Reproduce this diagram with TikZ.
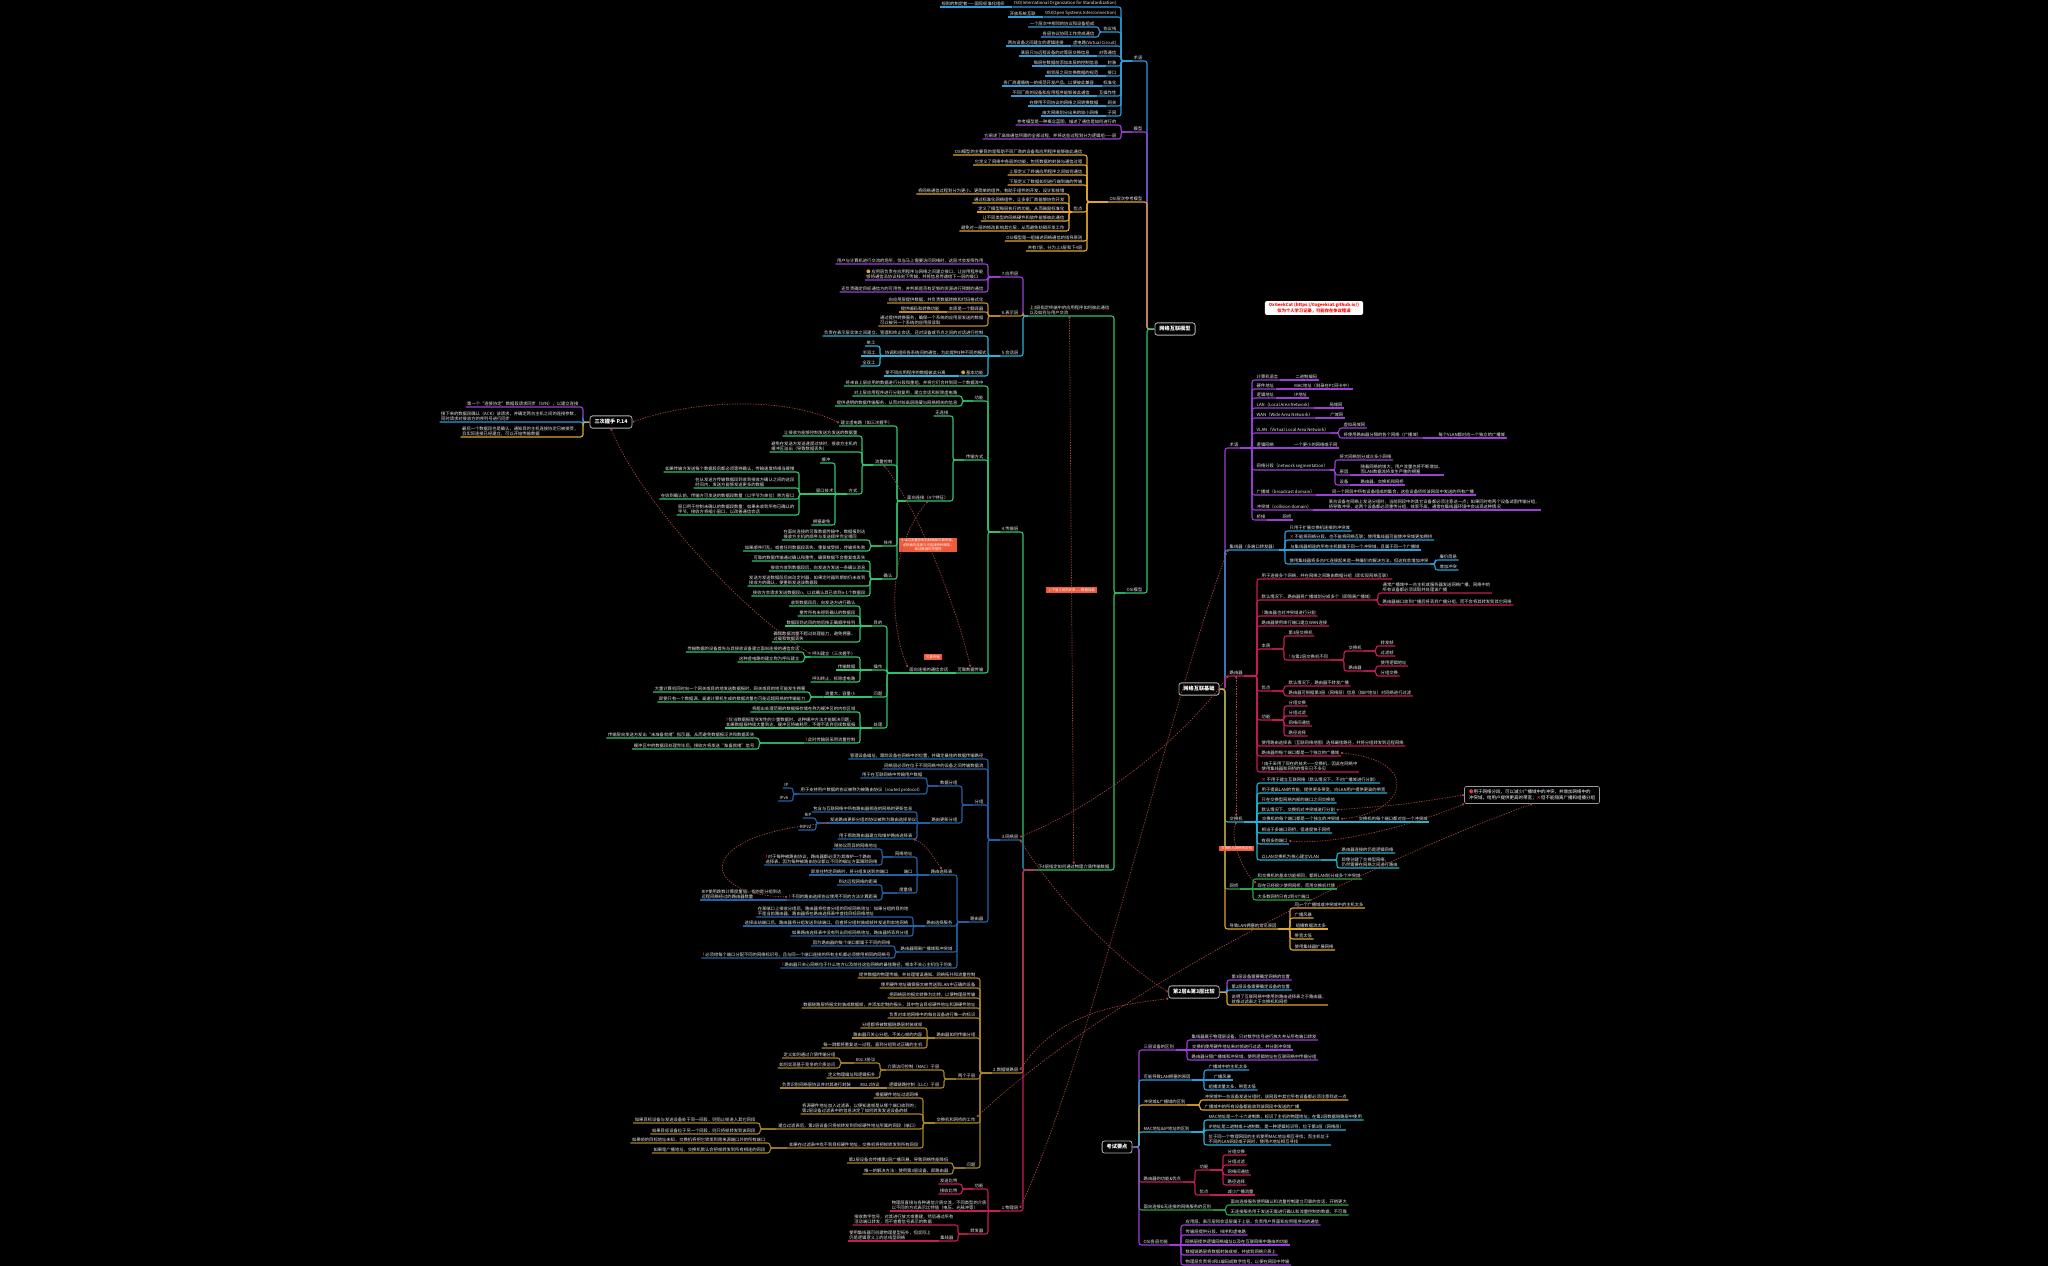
\documentclass[tikz,border=0pt]{standalone}
\usepackage{fontspec}
\setmainfont{Noto Sans CJK SC}
\usetikzlibrary{arrows.meta}
\definecolor{cBlue}{HTML}{2C9CDB}
\definecolor{cPurp}{HTML}{9B3FD6}
\definecolor{cGold}{HTML}{E0A62C}
\definecolor{cGreen}{HTML}{2FC46E}
\definecolor{cCyan}{HTML}{28B3D8}
\definecolor{cBrown}{HTML}{BF8A2B}
\definecolor{cNavy}{HTML}{2361A6}
\definecolor{cOlive}{HTML}{A88424}
\definecolor{cCrim}{HTML}{C41C5C}
\definecolor{cTeal}{HTML}{20B5CF}
\definecolor{cLeaf}{HTML}{2FA046}
\definecolor{cRel}{HTML}{A8453B}
\definecolor{cTag}{HTML}{EE5A3A}
\definecolor{cWarn}{HTML}{E53935}
\tikzset{
  tx/.style={font=\fontsize{4.3}{5.4}\selectfont, text=white!92!black, inner xsep=1.5pt, inner ysep=0.9pt, align=left},
  br/.style={draw=#1, line width=1.1pt, rounded corners=2.5pt},
  topic/.style={draw=white!70!black, line width=0.8pt, rounded corners=2.5pt, fill=black, text=white,
    font=\fontsize{5.2}{6}\selectfont\bfseries, inner xsep=4.5pt, inner ysep=3.6pt},
  port/.style={inner sep=0pt, minimum size=0pt},
  rel/.style={draw=cRel, dash pattern=on 1.3pt off 1.3pt, line width=0.7pt,
    {Circle[length=2.2pt]}-{Circle[length=2.2pt]}},
  tag/.style={fill=cTag, text=white, font=\fontsize{3.4}{4.2}\selectfont, inner xsep=2pt, inner ysep=1.2pt, align=center},
}
% right child: colour, name, parent, x of line start, y of text, text
\newcommand\mmR[6]{\node[tx,anchor=south west] (#2) at (#4,#5+3) {#6};
  \draw[br=#1] (#3.south east) -| ([xshift=-3pt]#2.south west) -- (#2.south east);}
% left child: colour, name, parent, x of line end, y of text, text
\newcommand\mmL[6]{\node[tx,anchor=south east] (#2) at (#4,#5+3) {#6};
  \draw[br=#1] (#3.south west) -| ([xshift=3pt]#2.south east) -- (#2.south west);}
% same-row children: colour, name, parent, gap, text
\newcommand\mmRS[5]{\node[tx,anchor=south west] (#2) at ([xshift=#4pt]#3.south east) {#5};
  \draw[br=#1] (#3.south east) -- (#2.south east);}
\newcommand\mmLS[5]{\node[tx,anchor=south east] (#2) at ([xshift=-#4pt]#3.south west) {#5};
  \draw[br=#1] (#3.south west) -- (#2.south west);}
\newcommand\iconW{{\color{cWarn}\bfseries !}\,}
\newcommand\iconX{{\color{cWarn}\bfseries ×}\,}
\newcommand\iconD{{\color{cGold}●}\,}
\begin{document}
\begin{tikzpicture}[x=1pt,y=-1pt]
\useasboundingbox (0,0) rectangle (2048,1266);
\fill[black] (0,0) rectangle (2048,1266);

% ================= 网络互联模型 =================
\node[topic] (M1) at (1175,329) {网络互联模型};
\node[port] (M1p) at (M1.west) {};

\mmL{cBlue}{A1}{M1p}{1144}{58}{术语}
\mmL{cBlue}{a1}{A1}{1118}{4}{ISO(International Organization for Standardization)}
\mmLS{cBlue}{a1c}{a1}{6}{规则的制定者——国际标准化组织}
\mmL{cBlue}{a2}{A1}{1118}{14}{OSI(Open Systems Interconnection)}
\mmLS{cBlue}{a2c}{a2}{6}{开放系统互联}
\mmL{cBlue}{a3}{A1}{1118}{29}{协议栈}
\mmL{cBlue}{a3a}{a3}{1096}{24}{一个层次中相邻的协议和设备组成}
\mmL{cBlue}{a3b}{a3}{1096}{34}{各层协议协同工作完成通信}
\mmL{cBlue}{a4}{A1}{1118}{43}{虚电路(Virtual Circuit)}
\mmLS{cBlue}{a4c}{a4}{6}{两台设备之间建立的逻辑连接}
\mmL{cBlue}{a5}{A1}{1118}{53}{对等通信}
\mmLS{cBlue}{a5c}{a5}{6}{某层只与远程设备的对等层交换信息}
\mmL{cBlue}{a6}{A1}{1118}{63}{封装}
\mmLS{cBlue}{a6c}{a6}{6}{每层在数据前添加本层的控制信息}
\mmL{cBlue}{a7}{A1}{1118}{73}{接口}
\mmLS{cBlue}{a7c}{a7}{6}{相邻层之间交换数据的规范}
\mmL{cBlue}{a8}{A1}{1118}{83}{标准化}
\mmLS{cBlue}{a8c}{a8}{6}{各厂商遵循统一的规范开发产品，以便彼此兼容}
\mmL{cBlue}{a9}{A1}{1118}{93}{互操作性}
\mmLS{cBlue}{a9c}{a9}{6}{不同厂商的设备和应用程序能够彼此通信}
\mmL{cBlue}{a10}{A1}{1118}{103}{网关}
\mmLS{cBlue}{a10c}{a10}{6}{在使用不同协议的网络之间转换数据}
\mmL{cBlue}{a11}{A1}{1118}{113}{子网}
\mmLS{cBlue}{a11c}{a11}{6}{由大网络划分出来的较小网络}

\mmL{cPurp}{A2}{M1p}{1144}{129}{模型}
\mmL{cPurp}{b1}{A2}{1118}{122}{参考模型是一种概念蓝图，描述了通信是如何进行的}
\mmL{cPurp}{b2}{A2}{1118}{136}{它阐述了高效通信所需的全部过程，并将这些过程划分为逻辑组——层}

\mmL{cGold}{A3}{M1p}{1144}{199}{OSI层次参考模型}
\mmL{cGold}{d1}{A3}{1084}{152}{OSI模型的主要目的是帮助不同厂商的设备和应用程序能够彼此通信}
\mmL{cGold}{d2}{A3}{1084}{162}{它定义了网络中各层的功能，包括数据的封装与通信过程}
\mmL{cGold}{d3}{A3}{1084}{172}{上层定义了终端应用程序之间如何通信}
\mmL{cGold}{d4}{A3}{1084}{182}{下层定义了数据如何进行端到端的传输}
\mmL{cGold}{D5}{A3}{1084}{209}{优点}
\mmL{cGold}{d51}{D5}{1066}{191}{将网络通信过程划分为更小、更简单的组件，有助于组件的开发、设计和排错}
\mmL{cGold}{d52}{D5}{1066}{200}{通过标准化网络组件，让多家厂商能够协作开发}
\mmLS{cGold}{d53}{D5}{6}{定义了模型每层执行的功能，从而鼓励标准化}
\mmL{cGold}{d54}{D5}{1066}{218}{让不同类型的网络硬件和软件能够彼此通信}
\mmL{cGold}{d55}{D5}{1066}{228}{避免对一层的修改影响其它层，从而避免妨碍开发工作}
\mmL{cGold}{d6}{A3}{1084}{238}{OSI模型是一组描述网络通信的指导原则}
\mmL{cGold}{d7}{A3}{1084}{248}{共有7层，分为上3层和下4层}

% ---------- OSI模型 ----------
\mmL{cGreen}{A4}{M1p}{1144}{590}{OSI模型}
\mmL{cGreen}{U3}{A4}{1111}{313}{上3层指定终端中的应用程序如何彼此通信\\以及如何与用户交流}
\mmL{cGreen}{D4}{A4}{1111}{867}{下4层指定如何通过物理介质传输数据}

\mmL{cPurp}{AP}{U3}{1020}{274}{7.应用层}
\mmL{cPurp}{ap1}{AP}{985}{261}{用户与计算机进行交流的场所，仅当马上需要访问网络时，这层才会发挥作用}
\mmL{cPurp}{ap2}{AP}{985}{277}{\iconD 应用层负责在应用程序与网络之间建立接口，让应用程序能\\够将通信沿协议栈向下传输，并将信息传递给下一层的接口}
\mmL{cPurp}{ap3}{AP}{985}{289}{还负责确定目标通信方的可用性，并判断是否有足够的资源进行预期的通信}

\mmL{cBrown}{PR}{U3}{1020}{313}{6.表示层}
\mmL{cBrown}{pr1}{PR}{985}{300}{向应用层提供数据，并负责数据转换和代码格式化}
\mmL{cBrown}{pr2}{PR}{985}{309}{本质是一个翻译器}
\mmLS{cBrown}{pr2a}{pr2}{6}{提供编码和转换功能}
\mmL{cBrown}{pr3}{PR}{985}{323}{通过提供转换服务，确保一个系统的应用层发送的数据\\可以被另一个系统的应用层读取}

\mmL{cCyan}{SE}{U3}{1020}{353}{5.会话层}
\mmL{cCyan}{se1}{SE}{985}{333}{负责在表示层实体之间建立、管理和终止会话，还对设备或节点之间的对话进行控制}
\mmLS{cCyan}{se2}{SE}{12}{协调和组织各系统间的通信，为此提供3种不同的模式}
\mmL{cCyan}{se2a}{se2}{877}{343}{单工}
\mmLS{cCyan}{se2b}{se2}{6}{半双工}
\mmL{cCyan}{se2c}{se2}{877}{363}{全双工}
\mmL{cCyan}{se3}{SE}{985}{373}{\iconD 基本功能}
\mmLS{cCyan}{se3a}{se3}{12}{使不同应用程序的数据彼此分离}

% ---------- 4.传输层 ----------
\mmL{cGreen}{T4}{D4}{1020}{529}{4.传输层}
\mmL{cGreen}{t1}{T4}{985}{383}{将来自上层应用的数据进行分段和重组，并将它们合并到同一个数据流中}
\mmL{cGreen}{t2}{T4}{985}{398}{功能}
\mmL{cGreen}{t2a}{t2}{959}{393}{对上层应用程序进行分割复用，建立会话和拆除虚电路}
\mmL{cGreen}{t2b}{t2}{959}{403}{提供透明的数据传输服务，从而对较高层隐藏与网络相关的信息}
\mmL{cGreen}{t3}{T4}{985}{457}{传输方式}
\mmL{cGreen}{t3a}{t3}{950}{413}{无连接}
\mmL{cGreen}{CO}{t3}{950}{498}{面向连接（4个特征）}
\mmL{cGreen}{VC}{CO}{894}{423}{建立虚电路（如三次握手）}
\mmL{cGreen}{FC}{CO}{894}{462}{流量控制}
\mmL{cGreen}{fc1}{FC}{859}{433}{让接收方能够控制发送方发送的数据量}
\mmL{cGreen}{fc2}{FC}{859}{449}{避免在发送方发送速度过快时，接收方主机的\\缓冲区溢出（导致数据丢失）}
\mmL{cGreen}{FM}{FC}{859}{491}{方式}
\mmL{cGreen}{fm1}{FM}{832}{460}{缓冲}
\mmLS{cGreen}{WN}{FM}{12}{窗口技术}
\mmL{cGreen}{fm3}{FM}{832}{522}{拥塞避免}
\mmL{cGreen}{wn1}{WN}{796}{469}{如果传输方发送每个数据段后都必须等待确认，传输速度将相当缓慢}
\mmL{cGreen}{wn2}{WN}{796}{485}{在从发送方传输数据段到收到接收方确认之间的这段\\时间内，发送方能够发送更多的数据}
\mmL{cGreen}{wn3}{WN}{796}{496}{在收到确认前，传输方可发送的数据段数量（以字节为单位）称为窗口}
\mmL{cGreen}{wn4}{WN}{796}{512}{窗口用于控制未确认的数据段数量：如果未收到所有已确认的\\字节，接收方将缩小窗口，以改善通信会话}
\mmL{cGreen}{SQ}{CO}{894}{543}{排序}
\mmL{cGreen}{sq1}{SQ}{867}{537}{在面向连接的可靠数据传输中，数据报到达\\接收方主机的顺序与发送顺序完全相同}
\mmL{cGreen}{sq2}{SQ}{867}{548}{如果顺序打乱，或者任何数据段丢失、重复或受损，传输将失败}
\mmL{cGreen}{AK}{CO}{894}{576}{确认}
\mmL{cGreen}{ak1}{AK}{867}{558}{可靠的数据传输通过确认和重传，确保数据不会重复或丢失}
\mmL{cGreen}{ak2}{AK}{867}{568}{接收方收到数据段后，向发送方发送一条确认消息}
\mmL{cGreen}{ak3}{AK}{867}{583}{发送方发送数据段后启动定时器，如果定时器到期前仍未收到\\接收方的确认，便重新发送该数据段}
\mmL{cGreen}{ak4}{AK}{867}{593}{接收方会请求发送数据段n，以此确认其已收到n-1个数据段}

\mmL{cGreen}{RL}{T4}{985}{670}{可靠数据传输}
\mmLS{cGreen}{CS}{RL}{6}{面向连接的通信会话}
\mmL{cGreen}{G1}{CS}{884}{623}{目的}
\mmL{cGreen}{g11}{G1}{857}{603}{收到数据段后，向发送方进行确认}
\mmL{cGreen}{g12}{G1}{857}{613}{重传所有未得到确认的数据段}
\mmLS{cGreen}{g13}{G1}{15}{数据段到达目的地后按正确顺序排列}
\mmL{cGreen}{g14}{G1}{857}{639}{确保数据流量不超过处理能力，避免拥塞、\\过载和数据丢失}
\mmL{cGreen}{G2}{CS}{884}{667}{操作}
\mmL{cGreen}{CA}{G2}{857}{654}{呼叫建立（三次握手）}
\mmL{cGreen}{ca1}{CA}{801}{649}{传输数据的设备首先与其接收设备建立面向连接的通信会话}
\mmL{cGreen}{ca2}{CA}{801}{659}{这种虚电路的建立称为呼叫建立}
\mmLS{cGreen}{g22}{G2}{15}{传输数据}
\mmL{cGreen}{g23}{G2}{857}{679}{呼叫终止，拆除虚电路}
\mmL{cGreen}{G3}{CS}{884}{694}{问题}
\mmLS{cGreen}{g31}{G3}{15}{流量大，容量小}
\mmL{cGreen}{g31a}{g31}{807}{689}{大量计算机同时向一个网关或目的地发送数据报时，网关或目的地可能发生拥塞}
\mmL{cGreen}{g31b}{g31}{807}{699}{即使只有一个数据源，高速计算机生成的数据流量也可能远超网络的传输能力}
\mmL{cGreen}{G4}{CS}{884}{725}{处理}
\mmL{cGreen}{g41}{G4}{857}{709}{将超出处理范围的数据报存储在称为缓冲区的内存区域}
\mmLS{cGreen}{g42}{G4}{15}{\iconW 仅当数据报是突发性的少量数据时，这种缓冲方法才能解决问题；\\如果数据报持续大量到达，缓冲区将被耗尽，不得不丢弃后续数据报}
\mmL{cGreen}{g43}{G4}{857}{740}{\iconW 此时传输层采用流量控制}
\mmL{cGreen}{g43a}{g43}{756}{735}{传输层向发送方发出“未准备就绪”指示器，从而避免数据报泛洪和数据丢失}
\mmL{cGreen}{g43b}{g43}{756}{746}{缓冲区中的数据段处理完毕后，接收方将发送“准备就绪”信号}

% ---------- 3.网络层 ----------
\mmL{cNavy}{N3}{D4}{1020}{837}{3.网络层}
\mmL{cNavy}{n1}{N3}{985}{756}{管理设备编址，跟踪设备在网络中的位置，并确定最佳的数据传输路径}
\mmL{cNavy}{n2}{N3}{985}{766}{网络层必须在位于不同网络中的设备之间传输数据流}
\mmL{cNavy}{PK}{N3}{985}{802}{分组}
\mmL{cNavy}{DP}{PK}{959}{783}{数据分组}
\mmL{cNavy}{dp1}{DP}{924}{775}{用于在互联网络中传输用户数据}
\mmL{cNavy}{RP}{DP}{924}{791}{用于支持用户数据的协议被称为被路由协议（routed protocol）}
\mmL{cNavy}{rp1}{RP}{790}{785}{IP}
\mmL{cNavy}{rp2}{RP}{790}{798}{IPv6}
\mmL{cNavy}{RU}{PK}{959}{820}{路由更新分组}
\mmL{cNavy}{ru1}{RU}{914}{809}{包含与互联网络中所有路由器相连的网络的更新信息}
\mmLS{cNavy}{RQ}{RU}{12}{发送路由更新分组的协议被称为路由选择协议}
\mmL{cNavy}{rq1}{RQ}{813}{815}{RIP}
\mmL{cNavy}{rq2}{RQ}{813}{827}{RIPv2}
\mmL{cNavy}{ru3}{RU}{914}{836}{用于帮助路由器建立和维护路由选择表}
\mmL{cNavy}{RT}{N3}{985}{919}{路由器}
\mmL{cNavy}{RTB}{RT}{954}{872}{路由选择表}
\mmL{cNavy}{NA}{RTB}{914}{854}{网络地址}
\mmL{cNavy}{na1}{NA}{879}{846}{随协议而异的网络地址}
\mmL{cNavy}{na2}{NA}{879}{862}{\iconW 对于每种被路由协议，路由器都必须为其维护一个路由\\选择表，因为每种被路由协议都以不同的编址方案跟踪网络}
\mmLS{cNavy}{PO}{RTB}{15}{端口}
\mmLS{cNavy}{po1}{PO}{12}{即发往特定网络时，将分组发送到的端口}
\mmL{cNavy}{MT}{RTB}{914}{890}{度量值}
\mmL{cNavy}{mt1}{MT}{879}{882}{到达远程网络的距离}
\mmL{cNavy}{WM}{MT}{879}{897}{\iconW 不同的路由选择协议使用不同的方法计算距离}
\mmLS{cNavy}{wm1}{WM}{4}{RIP使用跳数计算度量值，指的是分组到达\\远程网络经过的路由器数量}
\mmL{cNavy}{RS}{RT}{954}{923}{路由选择服务}
\mmL{cNavy}{rs1}{RS}{910}{914}{在某端口上接收分组后，路由器将检查分组的目标网络地址：如果分组的目的地\\不是当前路由器，路由器将在路由选择表中查找目标网络地址}
\mmLS{cNavy}{rs2}{RS}{15}{选择出站端口后，路由器将分组发送到该端口，后者将分组封装成帧并发送到本地网络}
\mmL{cNavy}{rs3}{RS}{910}{933}{如果路由选择表中没有列出目标网络地址，路由器将丢弃分组}
\mmL{cNavy}{RI}{RT}{954}{949}{路由器隔离广播域和冲突域}
\mmL{cNavy}{ri1}{RI}{892}{943}{因为路由器的每个端口都属于不同的网络}
\mmL{cNavy}{ri2}{RI}{892}{955}{\iconW 必须给每个端口分配不同的网络标识号，且与同一个端口连接的所有主机都必须使用相同的网络号}
\mmL{cNavy}{rt5}{RT}{954}{965}{\iconW 路由器只关心网络位于什么地方以及前往这些网络的最佳路径，根本不关心主机位于何处}

% ---------- 2.数据链路层 ----------
\mmL{cOlive}{L2}{D4}{1020}{1070}{2.数据链路层}
\mmL{cOlive}{l1}{L2}{977}{975}{提供数据的物理传输，并处理错误通知、网络拓扑和流量控制}
\mmL{cOlive}{l2}{L2}{977}{985}{使用硬件地址确保报文被传送到LAN中正确的设备}
\mmL{cOlive}{l3}{L2}{977}{995}{把网络层的报文转换为比特，以便物理层传输}
\mmL{cOlive}{l4}{L2}{977}{1005}{数据链路层将报文封装成数据帧，并添加定制的报头，其中包含目标硬件地址和源硬件地址}
\mmL{cOlive}{l5}{L2}{977}{1015}{负责对本地网络中的每台设备进行唯一的标识}
\mmL{cOlive}{RH}{L2}{977}{1035}{路由器如何传输分组}
\mmL{cOlive}{rh1}{RH}{924}{1025}{分组都将被数据链路层封装成帧}
\mmLS{cOlive}{rh2}{RH}{11}{路由器只关心分组，不关心帧的内容}
\mmL{cOlive}{rh3}{RH}{924}{1045}{每一跳都将重复这一过程，直到分组到达正确的主机}
\mmL{cOlive}{TS}{L2}{977}{1076}{两个子层}
\mmL{cOlive}{MAC}{TS}{941}{1067}{介质访问控制（MAC）子层}
\mmL{cOlive}{P83}{MAC}{877}{1060}{802.3协议}
\mmL{cOlive}{p831}{P83}{837}{1055}{定义如何通过介质传输分组}
\mmL{cOlive}{p832}{P83}{837}{1065}{如何实现基于竞争的介质访问}
\mmL{cOlive}{mac2}{MAC}{877}{1075}{定义物理编址和逻辑拓扑}
\mmL{cOlive}{LLC}{TS}{941}{1085}{逻辑链路控制（LLC）子层}
\mmLS{cOlive}{P82}{LLC}{6}{802.2协议}
\mmLS{cOlive}{p821}{P82}{6}{负责识别网络层协议并对其进行封装}
\mmL{cOlive}{SW}{L2}{977}{1120}{交换机和网桥的工作}
\mmL{cOlive}{sw1}{SW}{920}{1095}{根据硬件地址过滤网络}
\mmL{cOlive}{sw2}{SW}{920}{1111}{将源硬件地址加入过滤表，以便知道帧是从哪个端口收到的；\\第2层设备过滤表中的信息决定了如何转发发送设备的帧}
\mmL{cOlive}{BF}{SW}{920}{1126}{建立过滤表后，第2层设备只将帧转发到目标硬件地址所属的网段（端口）}
\mmL{cOlive}{bf1}{BF}{757}{1120}{如果目标设备与发送设备处于同一网段，则阻止帧进入其它网段}
\mmL{cOlive}{bf2}{BF}{757}{1131}{如果目标设备位于另一个网段，则只将帧转发到该网段}
\mmL{cOlive}{NF}{SW}{920}{1145}{如果在过滤表中找不到目标硬件地址，交换机将把帧转发到所有网段}
\mmL{cOlive}{nf1}{NF}{767}{1140}{如果帧的目标地址未知，交换机将把它转发到除来源端口外的所有端口}
\mmL{cOlive}{nf2}{NF}{767}{1150}{如果是广播地址，交换机默认会把帧转发到所有相连的网段}
\mmL{cOlive}{PB}{L2}{977}{1165}{问题}
\mmL{cOlive}{pb1}{PB}{950}{1160}{第2层设备会传播第2层广播风暴，导致网络性能降低}
\mmL{cOlive}{pb2}{PB}{950}{1171}{唯一的解决方法：使用第3层设备，即路由器}

% ---------- 1.物理层 ----------
\mmL{cCrim}{P1}{D4}{1020}{1208}{1.物理层}
\mmL{cCrim}{FN}{P1}{985}{1186}{功能}
\mmL{cCrim}{fn1}{FN}{959}{1181}{发送比特}
\mmL{cCrim}{fn2}{FN}{959}{1191}{接收比特}
\mmLS{cCrim}{p12}{P1}{12}{物理层直接与各种通信介质交流，不同类型的介质\\以不同的方式表示比特值（电压、光脉冲等）}
\mmL{cCrim}{RP1}{P1}{985}{1231}{转发器}
\mmL{cCrim}{rp11}{RP1}{955}{1222}{接收数字信号，对其进行放大或重建，然后通过所有\\活动端口转发，而不查看信号表示的数据}
\mmL{cCrim}{HB}{RP1}{955}{1238}{集线器}
\mmLS{cCrim}{hb1}{HB}{6}{使用集线器可创建物理星型拓扑，但实际上\\仍是逻辑意义上的总线型网络}

% ================= 三次握手 =================
\node[topic] (M5) at (611,422) {三次握手 P.14};
\node[port] (M5p) at (M5.west) {};
\mmL{cPurp}{h1}{M5p}{580}{404}{第一个“连接协定”数据段请求同步（SYN），以建立连接}
\mmL{cBlue}{h2}{M5p}{580}{419}{接下来的数据段确认（ACK）该请求，并确定两台主机之间的连接参数，\\同时请求对接收方的序列号进行同步}
\mmL{cGold}{h3}{M5p}{580}{434}{最后一个数据段也是确认，通知目的主机连接协定已被接受，\\且实际连接已经建立，可以开始传输数据}

% ================= 网络互联基础 =================
\node[topic] (M2) at (1199,689) {网络互联基础};
\node[port] (M2p) at (M2.east) {};

\mmR{cPurp}{TM}{M2p}{1228}{445}{术语}
\mmR{cPurp}{tm1}{TM}{1255}{377}{计算机语言}
\mmRS{cPurp}{tm1a}{tm1}{14}{二进制编码}
\mmR{cPurp}{tm2}{TM}{1255}{386}{硬件地址}
\mmRS{cPurp}{tm2a}{tm2}{17}{MAC地址（刻录在PC网卡中）}
\mmR{cPurp}{tm3}{TM}{1255}{395}{逻辑地址}
\mmRS{cPurp}{tm3a}{tm3}{17}{IP地址}
\mmR{cPurp}{tm4}{TM}{1255}{405}{LAN（Local Area Network）}
\mmRS{cPurp}{tm4a}{tm4}{14}{局域网}
\mmR{cPurp}{tm5}{TM}{1255}{415}{WAN（Wide Area Network）}
\mmRS{cPurp}{tm5a}{tm5}{14}{广域网}
\mmR{cPurp}{VL}{TM}{1255}{430}{VLAN（Virtual Local Area Network）}
\mmR{cPurp}{vl1}{VL}{1342}{425}{虚拟局域网}
\mmR{cPurp}{vl2}{VL}{1342}{435}{将使用路由器分隔的各个网络（广播域）}
\mmRS{cPurp}{vl2a}{vl2}{14}{每个VLAN都对应一个独立的广播域}
\mmRS{cPurp}{tm7}{TM}{15}{逻辑网络}
\mmRS{cPurp}{tm7a}{tm7}{17}{一个更小的网络或子网}
\mmR{cPurp}{NS}{TM}{1255}{467}{网络分段（network segmentation）}
\mmR{cPurp}{ns1}{NS}{1338}{457}{将大网络划分成众多小网络}
\mmR{cPurp}{ns2}{NS}{1338}{472}{原因}
\mmRS{cPurp}{ns2a}{ns2}{9}{随着网络的增大，用户流量也将不断增加，\\而LAN数据流将发生严重的拥塞}
\mmR{cPurp}{ns3}{NS}{1338}{482}{设备}
\mmRS{cPurp}{ns3a}{ns3}{9}{路由器、交换机和网桥}
\mmR{cPurp}{tm9}{TM}{1255}{492}{广播域（broadcast domain）}
\mmRS{cPurp}{tm9a}{tm9}{14}{同一个网段中所有设备组成的集合，这些设备侦听该网段中发送的所有广播}
\mmR{cPurp}{tm10}{TM}{1255}{507}{冲突域（collision domain）}
\mmRS{cPurp}{tm10a}{tm10}{14}{某台设备在网络上发送分组时，当前网段中的其它设备都必须注意这一点；如果同时有两个设备试图传输分组，\\将导致冲突，这两个设备都必须重传分组，效率不高，通常在集线器环境中会出现这种情况}
\mmR{cPurp}{tm11}{TM}{1255}{517}{桥接}
\mmRS{cPurp}{tm11a}{tm11}{14}{网桥}

\mmR{cBlue}{HU}{M2p}{1228}{547}{集线器（多端口转发器）}
\mmR{cBlue}{hu1}{HU}{1288}{528}{只用于扩展交换机连接的冲突域}
\mmR{cBlue}{hu2}{HU}{1288}{537}{\iconX 不能将网络分段，也不能将网络互联；使用集线器可能使冲突域更加拥挤}
\mmRS{cBlue}{hu3}{HU}{10}{与集线器相连的所有主机都属于同一个冲突域，且属于同一个广播域}
\mmR{cBlue}{HC}{HU}{1288}{561}{使用集线器将多台PC连接起来是一种廉价的解决方法，但这样会增加冲突}
\mmR{cBlue}{hc1}{HC}{1438}{557}{廉价简易}
\mmR{cBlue}{hc2}{HC}{1438}{567}{增加冲突}

\mmR{cCrim}{RO}{M2p}{1228}{673}{路由器}
\mmR{cCrim}{ro1}{RO}{1260}{576}{用于连接多个网络，并在网络之间路由数据分组（即实现网络互联）}
\mmR{cCrim}{BD}{RO}{1260}{597}{默认情况下，路由器将广播域划分成多个（即隔离广播域）}
\mmR{cCrim}{bd1}{BD}{1381}{590}{通常广播域中一台主机或服务器发送网络广播，网络中的\\所有设备都必须读取并处理该广播}
\mmR{cCrim}{bd2}{BD}{1381}{602}{路由器端口收到广播后将丢弃广播分组，而不会将其转发到其它网络}
\mmR{cCrim}{ro3}{RO}{1260}{613}{\iconW 路由器也对冲突域进行分割}
\mmR{cCrim}{ro4}{RO}{1260}{623}{路由器使用串行端口建立WAN连接}
\mmR{cCrim}{ES}{RO}{1260}{646}{本质}
\mmR{cCrim}{es1}{ES}{1287}{633}{第3层交换机}
\mmR{cCrim}{DF}{ES}{1287}{657}{\iconW 与第2层交换机不同}
\mmR{cCrim}{SWx}{DF}{1347}{648}{交换机}
\mmR{cCrim}{swx1}{SWx}{1379}{643}{转发帧}
\mmR{cCrim}{swx2}{SWx}{1379}{653}{过滤帧}
\mmR{cCrim}{RTx}{DF}{1347}{668}{路由器}
\mmR{cCrim}{rtx1}{RTx}{1379}{663}{使用逻辑地址}
\mmR{cCrim}{rtx2}{RTx}{1379}{673}{分组交换}
\mmR{cCrim}{AD}{RO}{1260}{688}{优点}
\mmR{cCrim}{ad1}{AD}{1287}{683}{默认情况下，路由器不转发广播}
\mmR{cCrim}{ad2}{AD}{1287}{693}{路由器可根据第3层（网络层）信息（如IP地址）对网络进行过滤}
\mmR{cCrim}{FU}{RO}{1260}{717}{功能}
\mmR{cCrim}{fu1}{FU}{1287}{703}{分组交换}
\mmR{cCrim}{fu2}{FU}{1287}{713}{分组过滤}
\mmR{cCrim}{fu3}{FU}{1287}{723}{网络间通信}
\mmR{cCrim}{fu4}{FU}{1287}{733}{路径选择}
\mmR{cCrim}{ro8}{RO}{1260}{743}{使用路由选择表（互联网络地图）选择最佳路径，并将分组转发到远程网络}
\mmR{cCrim}{RB}{RO}{1260}{753}{路由器的每个端口都是一个独立的广播域}
\mmR{cCrim}{ro10}{RO}{1260}{769}{\iconW 由于采用了现在的技术——交换机，因此在网络中\\使用集线器和网桥的情形已不多见}

\mmR{cTeal}{SX}{M2p}{1228}{819}{交换机}
\mmR{cTeal}{sx1}{SX}{1260}{780}{\iconX 不用于建立互联网络（默认情况下，不对广播域进行分割）}
\mmR{cTeal}{sx2}{SX}{1260}{790}{用于提高LAN的性能，提供更多带宽，向LAN用户提供更高的带宽}
\mmR{cTeal}{sx3}{SX}{1260}{800}{只在交换型网络内部的端口之间交换帧}
\mmR{cTeal}{sx4}{SX}{1260}{810}{默认情况下，交换机对冲突域进行分割}
\mmRS{cTeal}{PC}{SX}{16}{交换机的每个端口都是一个独立的冲突域}
\mmRS{cTeal}{pca}{PC}{16}{交换机的每个端口都对应一个冲突域}
\mmR{cTeal}{sx6}{SX}{1260}{830}{相当于多端口网桥，但速度快于网桥}
\mmR{cTeal}{sx7}{SX}{1260}{841}{有很多的端口}
\mmR{cTeal}{VX}{SX}{1260}{857}{以LAN交换机为核心建立VLAN}
\mmR{cTeal}{vx1}{VX}{1340}{850}{路由器连接的仍是逻辑网络}
\mmR{cTeal}{vx2}{VX}{1340}{865}{即使创建了交换型网络，\\仍然需要在网络之间进行路由}

\mmR{cLeaf}{BR}{M2p}{1228}{886}{网桥}
\mmR{cLeaf}{br1}{BR}{1256}{876}{和交换机的基本功能相同，都将LAN划分成多个冲突域}
\mmRS{cLeaf}{br2}{BR}{16}{现在已经很少使用网桥，而用交换机代替}
\mmR{cLeaf}{br3}{BR}{1256}{897}{大多数网桥只有2到4个端口}

\mmR{cGold}{CG}{M2p}{1228}{926}{导致LAN拥塞的常见原因}
\mmR{cGold}{cg1}{CG}{1293}{905}{同一个广播域或冲突域中的主机太多}
\mmR{cGold}{cg2}{CG}{1293}{915}{广播风暴}
\mmRS{cGold}{cg3}{CG}{16}{组播数据流太多}
\mmR{cGold}{cg4}{CG}{1293}{936}{带宽太低}
\mmR{cGold}{cg5}{CG}{1293}{947}{使用集线器扩展网络}

% ================= 第2层&第3层比较 =================
\node[topic] (M3) at (1194,992) {第2层\&第3层比较};
\node[port] (M3p) at (M3.east) {};
\mmR{cPurp}{c1}{M3p}{1230}{977}{第3层设备需要确定网络的位置}
\mmR{cBlue}{c2}{M3p}{1230}{987}{第2层设备需要确定设备的位置}
\mmR{cGold}{c3}{M3p}{1230}{1002}{说明了互联网络中使用的路由选择表之于路由器，\\就像过滤表之于交换机和网桥}

% ================= 考试要点 =================
\node[topic] (M4) at (1117,1147) {考试要点};
\node[port] (M4p) at (M4.east) {};
\mmR{cPurp}{E1}{M4p}{1142}{1047}{三层设备的区别}
\mmR{cPurp}{e11}{E1}{1190}{1037}{集线器属于物理层设备，只对数字信号进行放大并从所有端口转发}
\mmRS{cPurp}{e12}{E1}{15}{交换机使用硬件地址来对帧进行过滤，并分割冲突域}
\mmR{cPurp}{e13}{E1}{1190}{1057}{路由器分隔广播域和冲突域，使用逻辑地址在互联网络中传输分组}
\mmR{cBlue}{E2}{M4p}{1142}{1077}{可能导致LAN拥塞的原因}
\mmR{cBlue}{e21}{E2}{1207}{1067}{广播域中的主机太多}
\mmRS{cBlue}{e22}{E2}{20}{广播风暴}
\mmR{cBlue}{e23}{E2}{1207}{1087}{组播流量太多、带宽太低}
\mmR{cGold}{E3}{M4p}{1142}{1102}{冲突域\&广播域的区别}
\mmR{cGold}{e31}{E3}{1203}{1097}{冲突域中一台设备发送分组时，该网段中其它所有设备都必须注意到这一点}
\mmR{cGold}{e32}{E3}{1203}{1107}{广播域中的所有设备都能收到该网段中发送的广播}
\mmR{cCyan}{E4}{M4p}{1142}{1129}{MAC地址\&IP地址的区别}
\mmR{cCyan}{e41}{E4}{1207}{1117}{MAC地址是一个十六进制数，标识了主机的物理地址；在第2层数据链路层中使用}
\mmR{cCyan}{e42}{E4}{1207}{1127}{IP地址是二进制或十进制数，是一种逻辑标识符，位于第3层（网络层）}
\mmR{cCyan}{e43}{E4}{1207}{1142}{位于同一个物理网段的主机使用MAC地址相互寻找；而主机位于\\不同的LAN网段或子网时，使用IP地址相互寻找}
\mmR{cCrim}{E5}{M4p}{1142}{1179}{路由器的功能\&优点}
\mmR{cCrim}{e51}{E5}{1198}{1167}{功能}
\mmR{cCrim}{e511}{e51}{1226}{1152}{分组交换}
\mmR{cCrim}{e512}{e51}{1226}{1162}{分组过滤}
\mmR{cCrim}{e513}{e51}{1226}{1172}{网络间通信}
\mmR{cCrim}{e514}{e51}{1226}{1182}{路径选择}
\mmR{cCrim}{e52}{E5}{1198}{1192}{优点}
\mmRS{cCrim}{e521}{e52}{16}{减少广播流量}
\mmR{cLeaf}{E6}{M4p}{1142}{1207}{面向连接\&无连接的网络服务的区别}
\mmR{cLeaf}{e61}{E6}{1229}{1202}{面向连接服务使用确认和流量控制建立可靠的会话，开销更大}
\mmR{cLeaf}{e62}{E6}{1229}{1212}{无连接服务用于发送无需进行确认和流量控制的数据，不可靠}
\mmR{cPurp}{E7}{M4p}{1142}{1242}{OSI各层功能}
\mmR{cPurp}{e71}{E7}{1184}{1222}{应用层、表示层和会话层属于上层，负责用户界面和应用程序间的通信}
\mmR{cPurp}{e72}{E7}{1184}{1232}{传输层提供分段、排序和虚电路}
\mmRS{cPurp}{e73}{E7}{14}{网络层提供逻辑网络编址以及在互联网络中路由的功能}
\mmR{cPurp}{e74}{E7}{1184}{1252}{数据链路层将数据封装成帧，并放到网络介质上}
\mmR{cPurp}{e75}{E7}{1184}{1262}{物理层负责将0和1编码成数字信号，以便在网段中传输}

% ================= notes =================
\node[fill=white, rounded corners=2pt, text=red, align=center, inner xsep=4pt, inner ysep=2pt,
  font=\fontsize{4.3}{5.6}\selectfont\bfseries] (NB) at (1314,308)
  {OxGeekCat (https://0xgeekcat.github.io/)\\仅为个人学习记录，可能存在争议错误};
\node[draw=white!60!black, line width=0.7pt, rounded corners=2pt, fill=black, text=white, align=left,
  inner xsep=4.5pt, inner ysep=3pt, font=\fontsize{4.5}{6.6}\selectfont] (NOTE) at (1532,795)
  {{\color{cWarn}●}用于网络分段，可以减少广播域中的冲突，并增加网络中的\\冲突域，给用户提供更高的带宽；{\color{cWarn}\bfseries ×}但不能隔离广播和组播分组};

% ================= relationships =================
\draw[rel] (VC.west) .. controls (790,398) and (700,398) .. (M5.east);
\draw[rel] (M5.south) .. controls (640,500) and (740,610) .. (CA.west);
\draw[rel] (FC.south) .. controls (915,505) and (955,600) .. node[tag, pos=0.45]
  {4.通过流量控制机制确保可靠传输，\\提供面向连接与无连接两种服务，\\保证数据的完整性} (RL.north);
\draw[rel] (CO.south) .. controls (880,560) and (895,640) .. (CS.north west);
\node[tag] (OB2) at (933,657) {可靠传输};
\draw[rel] (D4.north) -- node[tag, pos=0.5] {上下层之间的关系——数据封装} (U3.south);
\draw[rel] (N3.east) .. controls (1110,800) and (1190,730) .. (RO.south west);
\draw[rel] (N3.south east) .. controls (1070,920) and (1140,975) .. (M3.west);
\draw[rel] (L2.east) .. controls (1060,1010) and (1120,1005) .. (M3.south west);
\draw[rel] (P1.east) .. controls (1090,1060) and (1170,700) .. (HU.south west);
\draw[rel] (RB.east) .. controls (1420,760) and (1410,812) .. (PC.east);
\draw[rel] (RO.south) -- (SX.north);
\draw[rel] (SX.south) .. controls (1228,845) and (1250,880) .. node[tag, pos=0.35] {交换机与网桥的区别} (br2.north west);
\draw[rel] (sx4.east) .. controls (1400,805) .. (NOTE.west);
\draw[rel] (sx7.east) .. controls (1330,845) and (1400,830) .. (NOTE.south west);
\draw[rel] (SW.north east) .. controls (1100,1000) and (1350,870) .. (NOTE.south);
\draw[rel] (RQ.south west) .. controls (690,835) and (700,895) .. (WM.west);
\draw[rel] (ru3.south east) .. controls (925,845) .. (RTB.north);
\end{tikzpicture}
\end{document}
